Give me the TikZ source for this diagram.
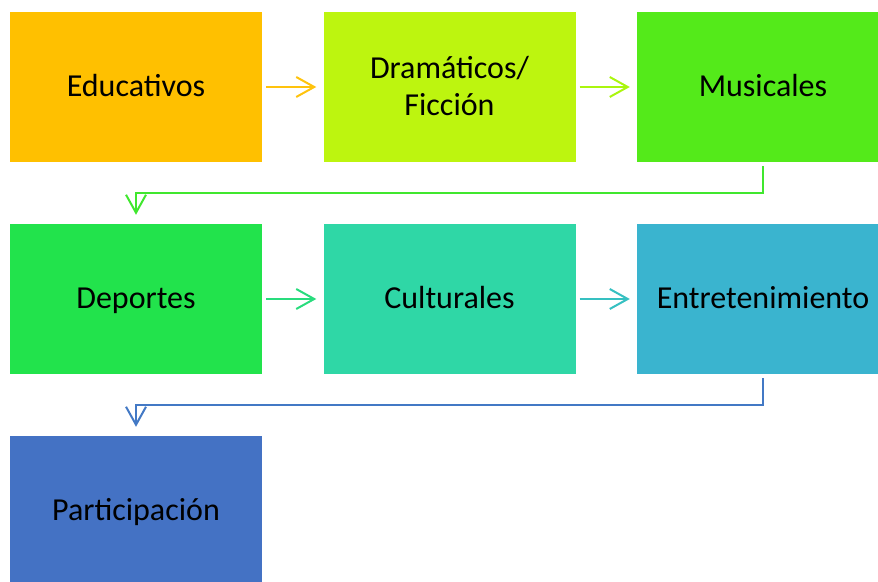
\documentclass[tikz,border=0pt]{standalone}
\usepackage{fontspec}
\setmainfont{Carlito}
\usetikzlibrary{arrows.meta}
\definecolor{educol}{HTML}{FFC000}
\definecolor{dramcol}{HTML}{BDF50F}
\definecolor{muscol}{HTML}{54EA1A}
\definecolor{depcol}{HTML}{22E34C}
\definecolor{culcol}{HTML}{2FD7A6}
\definecolor{entcol}{HTML}{3AB4CF}
\definecolor{partcol}{HTML}{4472C4}

\begin{document}
\begin{tikzpicture}[x=1pt, y=1pt,
    catbox/.style={rectangle, minimum width=252pt, minimum height=150pt, inner sep=0pt, align=center,
        text height=21pt, text depth=1.6pt, font=\fontsize{32}{36.7}\selectfont},
    flecha/.style={line width=2pt, -{Straight Barb[length=18pt, width=20pt, line width=2pt]},
        shorten <=4pt, shorten >=7pt}]
    \useasboundingbox (0,0) rectangle (878,581);

    % First row
    \node[catbox, fill=educol] (educativos) at (136,494) {Educativos};
    \node[catbox, fill=dramcol, text height=57.7pt] (dramaticos) at (449.5,494) {Dramáticos/\\Ficción};
    \node[catbox, fill=muscol] (musicales) at (763,494) {Musicales};

    \draw[flecha, educol!95!white] (educativos) -- (dramaticos);
    \draw[flecha, dramcol!90!green] (dramaticos) -- (musicales);

    % Second row
    \node[catbox, fill=depcol] (deportes) at (136,282) {Deportes};
    \node[catbox, fill=culcol] (culturales) at (449.5,282) {Culturales};
    \node[catbox, fill=entcol] (entretenimiento) at (763,282) {Entretenimiento};

    \draw[flecha, shorten >=9pt, muscol!60!depcol] (musicales.south) -- ++(0,-31) -| (deportes.north);
    \draw[flecha, depcol!45!culcol] (deportes) -- (culturales);
    \draw[flecha, culcol!35!entcol] (culturales) -- (entretenimiento);

    % Third row
    \node[catbox, fill=partcol] (participacion) at (136,70) {Participación};

    \draw[flecha, shorten >=9pt, partcol!90!entcol] (entretenimiento.south) -- ++(0,-31) -| (participacion.north);
\end{tikzpicture}
\end{document}
